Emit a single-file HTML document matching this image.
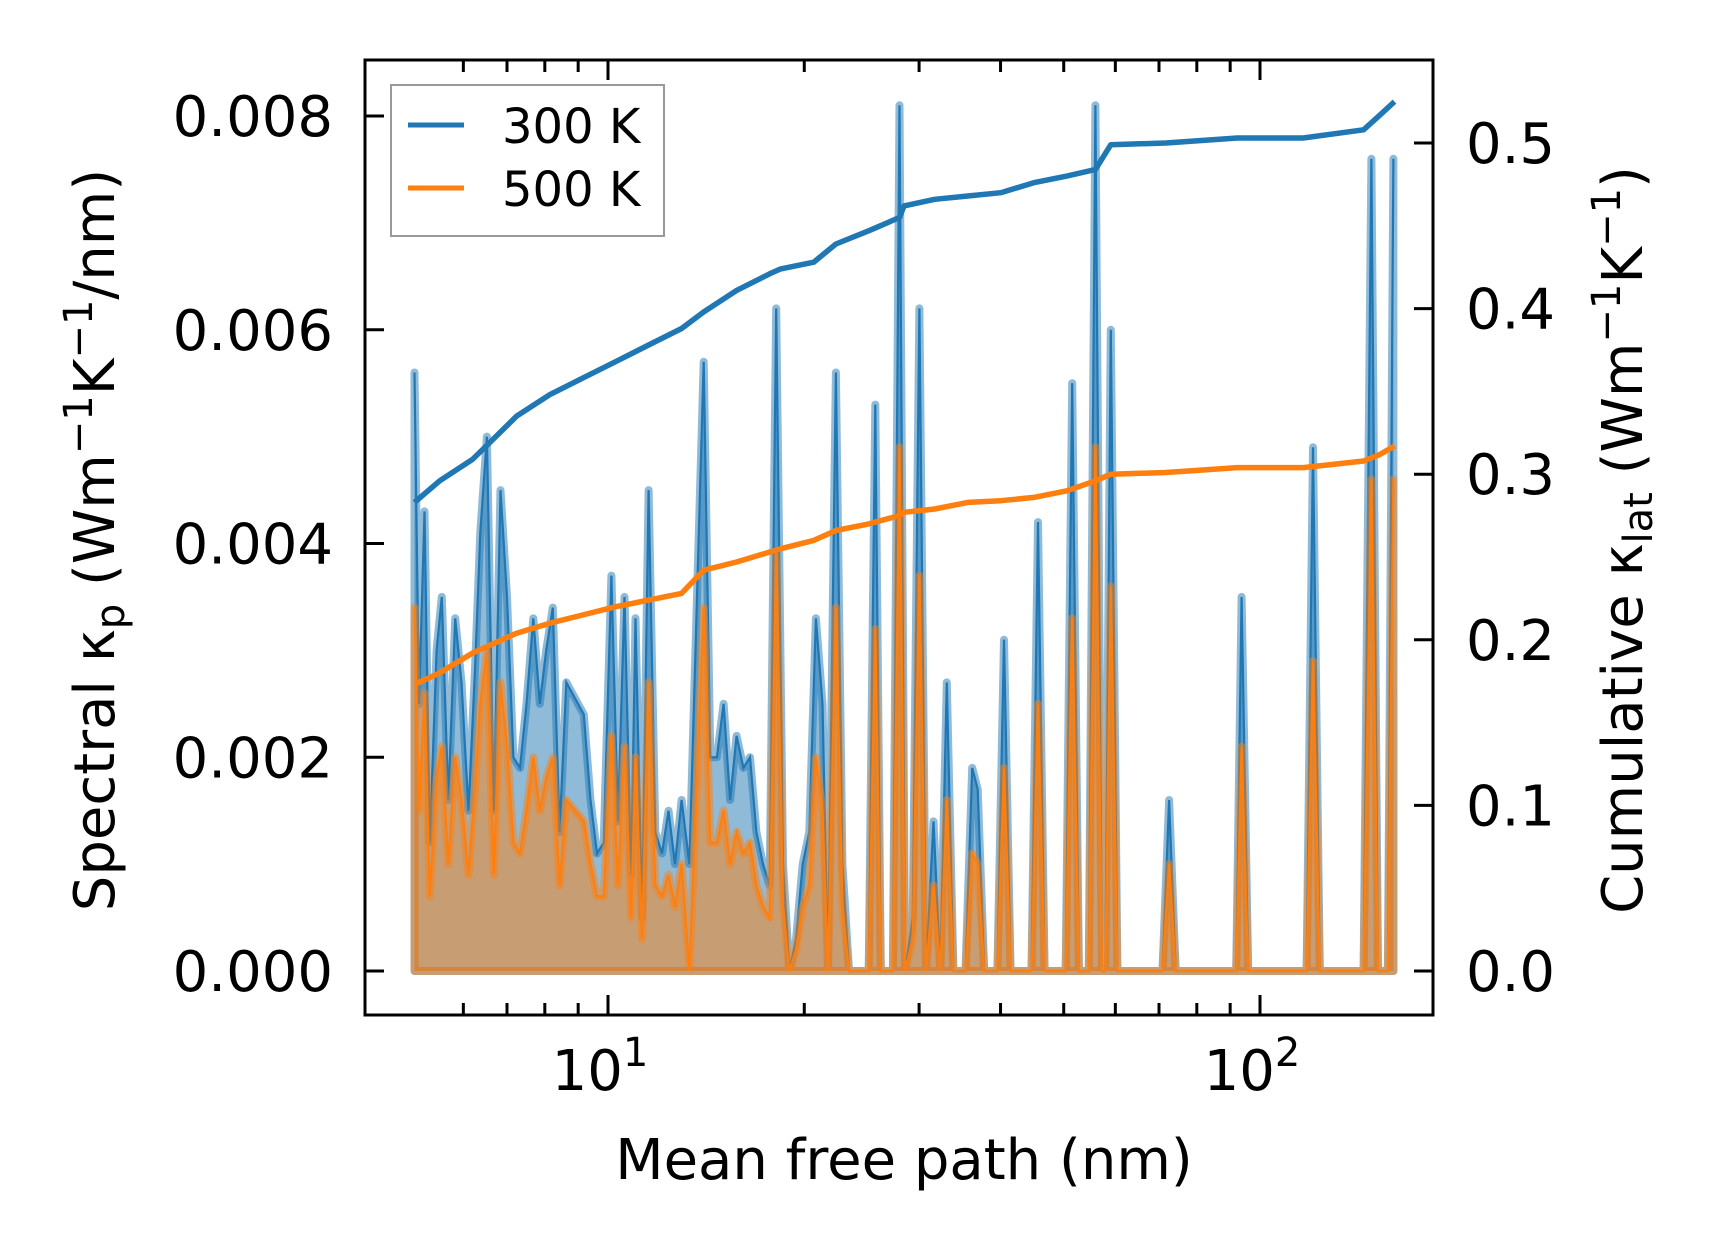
<!DOCTYPE html>
<html><head><meta charset="utf-8"><style>
body{margin:0;background:#fff}
svg{display:block}
text{font-family:"DejaVu Sans","Liberation Sans",sans-serif;fill:#000}
</style></head><body>
<svg id="chart" width="1716" height="1254" viewBox="0 0 1716 1254" xmlns="http://www.w3.org/2000/svg">
<rect width="1716" height="1254" fill="#fff"/>
<g id="plot"></g>
</svg>
<script>
const mfp = [5.05,5.13,5.23,5.33,5.46,5.56,5.69,5.83,5.96,6.11,6.25,6.37,6.52,6.68,6.84,7.00,7.16,7.33,7.50,7.68,7.86,8.04,8.23,8.43,8.63,9.18,9.40,9.62,9.85,10.12,10.36,10.60,10.85,11.02,11.28,11.54,11.82,12.10,12.38,12.67,12.97,13.33,14.02,14.35,14.69,15.04,15.39,15.75,16.13,16.51,16.89,17.29,17.70,18.11,18.55,18.98,19.43,19.89,20.36,20.84,21.33,21.75,22.36,22.88,23.42,25.11,25.70,26.21,27.35,28.00,28.55,29.34,30.03,30.74,31.57,32.33,33.09,33.87,35.35,36.19,36.90,37.76,39.56,40.49,41.44,44.62,45.66,46.74,50.35,51.52,52.76,54.63,55.92,57.24,57.91,59.05,60.44,70.87,72.54,74.25,91.93,93.72,95.93,117.9,120.6,123.5,144.2,148.2,151.7,157.1,160.2];
const spec300 = [5.6,2.5,4.3,1.2,3.0,3.5,1.6,3.3,2.7,1.5,2.8,4.1,5.0,1.5,4.5,3.5,2.0,1.9,2.5,3.3,2.5,3.0,3.4,1.3,2.7,2.4,1.6,1.1,1.2,3.7,1.4,3.5,0.9,3.3,0.5,4.5,1.3,1.1,1.5,1.0,1.6,1.0,5.7,2.0,2.0,2.5,1.6,2.2,1.9,2.0,1.3,1.0,0.8,6.2,1.0,0.0,0.3,1.0,1.3,3.3,2.5,0.0,5.6,1.0,0.0,0.0,5.3,0.0,0.0,8.1,0.0,0.5,6.2,0.0,1.4,0.0,2.7,0.0,0.0,1.9,1.7,0.0,0.0,3.1,0.0,0.0,4.2,0.0,0.0,5.5,0.0,0.0,8.1,0.0,0.0,6.0,0.0,0.0,1.6,0.0,0.0,3.5,0.0,0.0,4.9,0.0,0.0,7.6,0.0,0.0,7.6];
const spec500 = [3.4,1.5,2.6,0.7,1.8,2.1,1.0,2.0,1.6,0.9,1.7,2.5,3.0,0.9,2.7,2.1,1.2,1.1,1.5,2.0,1.5,1.8,2.0,0.8,1.6,1.4,1.0,0.7,0.7,2.2,0.8,2.1,0.5,2.0,0.3,2.7,0.8,0.7,0.9,0.6,1.0,0.0,3.4,1.2,1.2,1.5,1.0,1.3,1.1,1.2,0.8,0.6,0.5,3.9,0.6,0.0,0.2,0.6,0.8,2.0,1.5,0.0,3.4,0.6,0.0,0.0,3.2,0.0,0.0,4.9,0.0,0.3,3.7,0.0,0.8,0.0,1.6,0.0,0.0,1.1,1.0,0.0,0.0,1.9,0.0,0.0,2.5,0.0,0.0,3.3,0.0,0.0,4.9,0.0,0.0,3.6,0.0,0.0,1.0,0.0,0.0,2.1,0.0,0.0,2.9,0.0,0.0,4.6,0.0,0.0,4.6];
const cumMfp = [5.05,5.52,6.20,6.70,7.24,8.14,9.14,10.28,11.54,12.97,14.02,15.75,17.70,18.40,20.68,22.36,25.11,28.00,28.44,31.70,35.63,40.03,44.98,50.55,55.92,59.05,71.70,92.28,116.5,144.2,152.9,160.8];
const cum300 = [0.283,0.296,0.309,0.322,0.335,0.348,0.358,0.368,0.378,0.388,0.398,0.411,0.421,0.424,0.428,0.439,0.447,0.455,0.462,0.466,0.468,0.470,0.476,0.480,0.484,0.499,0.500,0.503,0.503,0.508,0.517,0.525];
const cum500 = [0.173,0.180,0.192,0.198,0.204,0.210,0.215,0.220,0.224,0.228,0.242,0.247,0.253,0.255,0.260,0.266,0.270,0.275,0.277,0.279,0.283,0.284,0.286,0.290,0.296,0.300,0.301,0.304,0.304,0.308,0.312,0.317];
const leftTicks = [0,0.002,0.004,0.006,0.008];
const leftLabels = ["0.000","0.002","0.004","0.006","0.008"];
const rightTicks = [0,0.1,0.2,0.3,0.4,0.5];
const rightLabels = ["0.0","0.1","0.2","0.3","0.4","0.5"];

const L=365,R=1433,T=60,B=1015;
const X=v=>608+(Math.log10(v)-1)*652;
const YL=v=>971-v*106875;
const YS=v=>971-v*1e-3*106875;
const YR=v=>971-v*1656;
const NS="http://www.w3.org/2000/svg";
const g=document.getElementById('plot');
function mk(tag,attrs,parent){const e=document.createElementNS(NS,tag);for(const k in attrs)e.setAttribute(k,attrs[k]);(parent||g).appendChild(e);return e;}

function area(vals,color,name){
  let d=`M${X(mfp[0])},${YS(0)}`;
  mfp.forEach((m,i)=>{d+=` L${X(m).toFixed(1)},${YS(vals[i]).toFixed(1)}`});
  d+=` L${X(mfp[mfp.length-1])},${YS(0)} Z`;
  const a=mk('path',{d,fill:color,'fill-opacity':0.5,stroke:color,'stroke-opacity':0.5,'stroke-width':8,'stroke-linejoin':'round'});
  
  
  let d2='';mfp.forEach((m,i)=>{d2+=(i?' L':'M')+X(m).toFixed(1)+','+YS(vals[i]).toFixed(1)});
  const l=mk('path',{d:d2,fill:'none',stroke:color,'stroke-width':2.2});
  
  
}
area(spec300,'#1f77b4','spectral-300k');
area(spec500,'#ff7f0e','spectral-500k');

function cum(vals,color,name){
  let d='';cumMfp.forEach((m,i)=>{d+=(i?' L':'M')+X(m).toFixed(1)+','+YR(vals[i]).toFixed(1)});
  const l=mk('path',{d,fill:'none',stroke:color,'stroke-width':5.5,'stroke-linejoin':'round'});
  
  
}
cum(cum300,'#1f77b4','cumulative-300k');
cum(cum500,'#ff7f0e','cumulative-500k');

const fr=mk('rect',{x:L,y:T,width:R-L,height:B-T,fill:'none',stroke:'#000','stroke-width':3});



leftTicks.forEach((v,i)=>{
  const y=YL(v);
  const t=mk('line',{x1:L,x2:L+19,y1:y,y2:y,stroke:'#000','stroke-width':3});
  
  
  const tx=mk('text',{x:333,y:y+20,'text-anchor':'end','font-size':56});
  tx.textContent=leftLabels[i];
  
  
});
rightTicks.forEach((v,i)=>{
  const y=YR(v);
  const t=mk('line',{x1:R-19,x2:R,y1:y,y2:y,stroke:'#000','stroke-width':3});
  
  
  const tx=mk('text',{x:1466,y:y+20,'font-size':56});
  tx.textContent=rightLabels[i];
  
  
});
[6,7,8,9,10,20,30,40,50,60,70,80,90,100,200].forEach(v=>{
  const x=X(v); if(x<L||x>R)return;
  const len=(v===10||v===100)?20:12;
  [[B,B-len],[T,T+len]].forEach(([a,b])=>{
    const t=mk('line',{x1:x,x2:x,y1:a,y2:b,stroke:'#000','stroke-width':3});
    
    
  });
});
[[10,'1'],[100,'2']].forEach(([v,e])=>{
  const tx=mk('text',{x:X(v)-8,y:1090,'text-anchor':'middle','font-size':56});
  tx.textContent='10';
  const s=mk('tspan',{dy:-24,'font-size':40},tx); s.textContent=e;
  
  
});
</script>
<svg style="position:absolute;left:0;top:0" width="1716" height="1254">
<text x="904" y="1179" text-anchor="middle" font-size="56">Mean free path (nm)</text>
<text transform="translate(114,540) rotate(-90)" text-anchor="middle" font-size="56">Spectral κ<tspan font-size="40" dy="10">p</tspan><tspan dy="-10"> (Wm</tspan><tspan font-size="40" dy="-22">−1</tspan><tspan dy="22">K</tspan><tspan font-size="40" dy="-22">−1</tspan><tspan dy="22">/nm)</tspan></text>
<text transform="translate(1642,540) rotate(-90)" text-anchor="middle" font-size="56">Cumulative κ<tspan font-size="40" dy="10">lat</tspan><tspan dy="-10"> (Wm</tspan><tspan font-size="40" dy="-22">−1</tspan><tspan dy="22">K</tspan><tspan font-size="40" dy="-22">−1</tspan><tspan dy="22">)</tspan></text>
<g>
<rect x="391" y="85" width="273" height="151" fill="#fff" fill-opacity="0.8" stroke="#999" stroke-width="2"/>
<line x1="408" x2="464" y1="125" y2="125" stroke="#1f77b4" stroke-width="5"/>
<text x="502" y="143" font-size="48">300 K</text>
<line x1="408" x2="464" y1="188" y2="188" stroke="#ff7f0e" stroke-width="5"/>
<text x="502" y="206" font-size="48">500 K</text>
</g>
</svg>
</body></html>
